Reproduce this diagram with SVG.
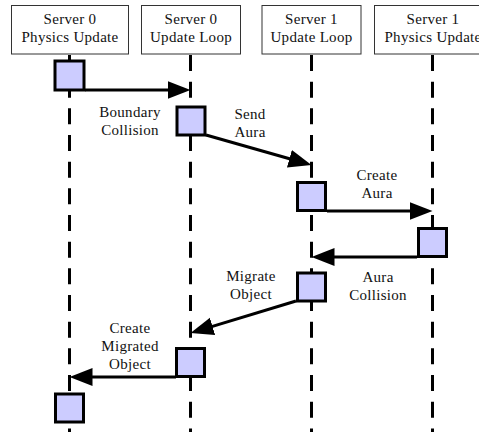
<svg xmlns="http://www.w3.org/2000/svg" width="479" height="432" viewBox="0 0 479 432">
<style>
.hdr{fill:#ffffff;stroke:#333333;stroke-width:1}
.life{stroke:#000000;stroke-width:3;stroke-dasharray:16 10.67;fill:none}
.act{fill:#ccccff;stroke:#000000;stroke-width:3}
.msg{stroke:#000000;stroke-width:3;fill:none;marker-end:url(#ah)}
.t{font-family:'Liberation Serif','DejaVu Serif',serif;font-size:15px;fill:#111111;text-anchor:middle;letter-spacing:0.3px}
</style>
<defs>
<marker id="ah" markerUnits="userSpaceOnUse" markerWidth="24" markerHeight="19" refX="13" refY="9" orient="auto" viewBox="0 0 24 19">
<path d="M0,0 L23,9 L0,18 z" fill="#000000"/>
</marker>
</defs>
<g id="lifelines">
<line class="life" x1="69.5" y1="55" x2="69.5" y2="432"/>
<line class="life" x1="190.5" y1="55" x2="190.5" y2="432"/>
<line class="life" x1="311.5" y1="55" x2="311.5" y2="432"/>
<line class="life" x1="432.5" y1="55" x2="432.5" y2="432"/>
</g>
<g id="hdr0"><rect class="hdr" x="11.5" y="5.5" width="117" height="48.5"/><text class="t" x="70" y="24">Server 0</text><text class="t" x="70" y="42">Physics Update</text></g>
<g id="hdr1"><rect class="hdr" x="141.5" y="5.5" width="99" height="48.5"/><text class="t" x="191" y="24">Server 0</text><text class="t" x="191" y="42">Update Loop</text></g>
<g id="hdr2"><rect class="hdr" x="262" y="5.5" width="99" height="48.5"/><text class="t" x="311.5" y="24">Server 1</text><text class="t" x="311.5" y="42">Update Loop</text></g>
<g id="hdr3"><rect class="hdr" x="374.5" y="5.5" width="117" height="48.5"/><text class="t" x="433" y="24">Server 1</text><text class="t" x="433" y="42">Physics Update</text></g>
<g id="connectors">
<line class="msg" x1="85" y1="90" x2="180.5" y2="90"/>
<line class="msg" x1="206" y1="135" x2="301.9" y2="162.3"/>
<line class="msg" x1="327" y1="211" x2="422.5" y2="211"/>
<line class="msg" x1="417" y1="257" x2="321.5" y2="257"/>
<line class="msg" x1="296" y1="301" x2="200.1" y2="330.1"/>
<line class="msg" x1="176" y1="377" x2="79.5" y2="377"/>
</g>
<g id="labels">
<text class="t" x="130" y="117">Boundary</text><text class="t" x="130" y="135">Collision</text>
<text class="t" x="250" y="119">Send</text><text class="t" x="250" y="137">Aura</text>
<text class="t" x="377" y="180">Create</text><text class="t" x="377" y="198">Aura</text>
<text class="t" x="251" y="281">Migrate</text><text class="t" x="251" y="299">Object</text>
<text class="t" x="378" y="282">Aura</text><text class="t" x="378" y="300">Collision</text>
<text class="t" x="130" y="333">Create</text><text class="t" x="130" y="351">Migrated</text><text class="t" x="130" y="369">Object</text>
</g>
<g id="actA"><rect class="act" x="55" y="61" width="29" height="29"/></g>
<g id="actB"><rect class="act" x="177" y="107" width="28" height="28"/></g>
<g id="actC"><rect class="act" x="297.5" y="182.5" width="28" height="28"/></g>
<g id="actD"><rect class="act" x="418.5" y="228.5" width="28" height="28"/></g>
<g id="actE"><rect class="act" x="297.5" y="273" width="28" height="28"/></g>
<g id="actF"><rect class="act" x="176.5" y="348.5" width="28" height="28"/></g>
<g id="actG"><rect class="act" x="55.5" y="394" width="28" height="28"/></g>
</svg>
